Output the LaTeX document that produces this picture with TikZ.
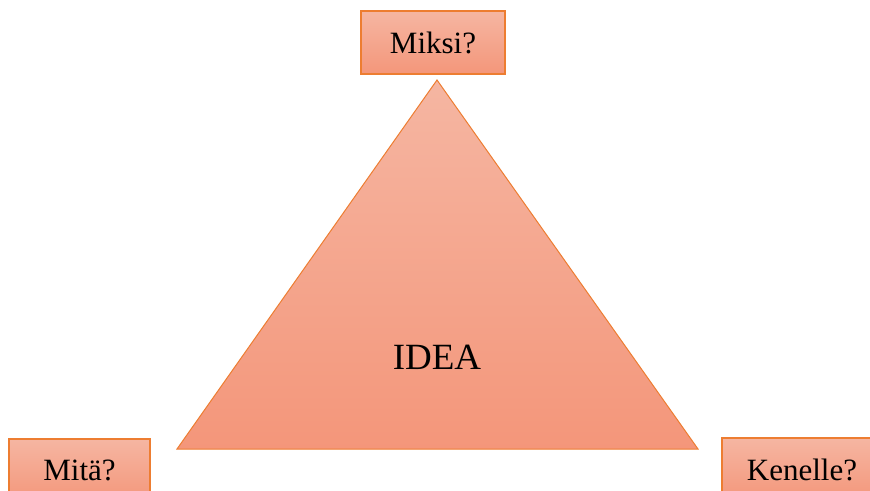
\documentclass[tikz,border=0pt]{standalone}
\usepackage{fontspec}
\setmainfont{Liberation Serif}
\definecolor{edgeor}{HTML}{ED7D31}
\definecolor{fillTop}{HTML}{F5B6A2}
\definecolor{fillBot}{HTML}{F4967A}
\tikzset{
  qbox/.style={rectangle, draw=edgeor, line width=1.2pt, top color=fillTop, bottom color=fillBot,
    minimum width=#1, minimum height=63pt, inner sep=0pt, font=\fontsize{31}{36}\selectfont},
  qbox/.default=144pt,
  tri/.style={draw=edgeor, line width=1pt, top color=fillTop, bottom color=fillBot, line join=miter}
}
\begin{document}
\begin{tikzpicture}[x=1pt,y=-1pt]
\clip (0,0) rectangle (870,490);
\useasboundingbox (0,0) rectangle (870,490);
\coordinate (apex) at (437,80);
\coordinate (bl) at (177,449);
\coordinate (br) at (698,449);
\draw[tri] (apex) -- (br) -- (bl) -- cycle;
\node[font=\fontsize{37}{42}\selectfont] (idea) at (437,357) {IDEA};
\node[qbox=144pt] (miksi) at (433,42.5) {Miksi?};
\node[qbox=141pt] (mita) at (79.5,470.5) {Mitä?};
\node[qbox=160pt] (kenelle) at (802,469.5) {Kenelle?};
\end{tikzpicture}
\end{document}
